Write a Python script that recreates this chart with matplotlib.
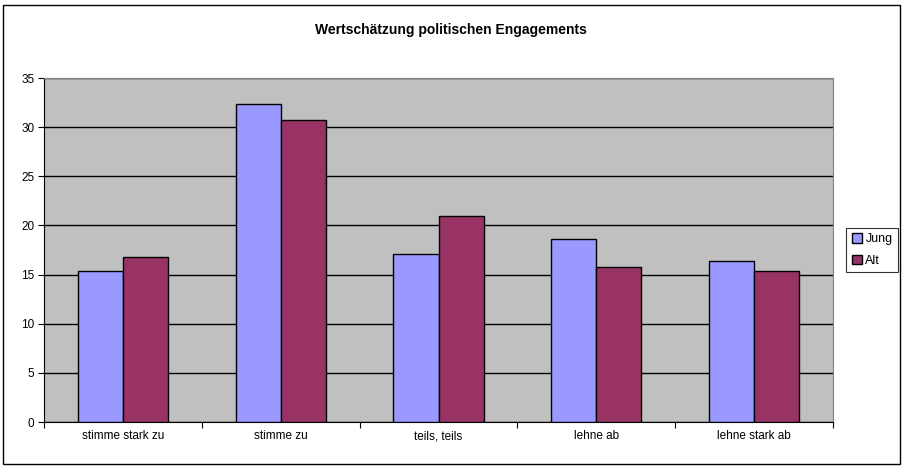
import numpy as np
import matplotlib.pyplot as plt
from matplotlib.patches import Rectangle

categories = ['stimme stark zu', 'stimme zu', 'teils, teils', 'lehne ab', 'lehne stark ab']
jung = [15.4, 32.4, 17.1, 18.6, 16.4]
alt = [16.8, 30.7, 21.0, 15.8, 15.4]
yticks = [0, 5, 10, 15, 20, 25, 30, 35]

plt.rcParams['font.family'] = ['Liberation Sans', 'DejaVu Sans']

fig = plt.figure(figsize=(9.02, 4.69), dpi=100)
ax = fig.add_axes([44 / 902, 1 - 422 / 469, (833 - 44) / 902, (422 - 78) / 469])

# figure frame
fig.patches.append(Rectangle((3 / 902, 5 / 469), 897 / 902, 459 / 469, transform=fig.transFigure,
                             fill=False, edgecolor='black', linewidth=1))

x = np.arange(len(categories))
w = 1 / 3.5
ax.bar(x - w / 2, jung, w, color='#9999FF', edgecolor='black', linewidth=1, label='Jung', zorder=3)
ax.bar(x + w / 2, alt, w, color='#993366', edgecolor='black', linewidth=1, label='Alt', zorder=3)

ax.set_facecolor('#C0C0C0')
ax.set_xlim(-0.5, len(categories) - 0.5)
ax.set_ylim(0, 35)
ax.set_yticks(yticks)
ax.yaxis.grid(True, color='black', linewidth=1, zorder=1)
ax.set_axisbelow(True)

ax.set_xticks(np.arange(-0.5, len(categories), 1))
ax.set_xticklabels([])
ax.set_xticks(x, minor=True)
ax.set_xticklabels(categories, minor=True, fontsize=8.5)
ax.tick_params(axis='x', which='minor', length=0, pad=6)
ax.tick_params(axis='x', which='major', length=4, color='black')
ax.tick_params(axis='y', length=4, labelsize=8.5, pad=3)

for s in ['top', 'right']:
    ax.spines[s].set_color('#808080')
for s in ['left', 'bottom']:
    ax.spines[s].set_color('black')

fig.text(0.5, 1 - 30 / 469, 'Wertschätzung politischen Engagements', ha='center', va='center',
         fontsize=10, fontweight='bold')

leg = fig.legend(loc='center left', bbox_to_anchor=(846 / 902, 1 - 250 / 469), fontsize=9,
                 frameon=True, fancybox=False, edgecolor='black', handlelength=0.8, handleheight=0.8,
                 handletextpad=0.3, borderpad=0.45, labelspacing=0.75, borderaxespad=0)
leg.get_frame().set_linewidth(0.8)

fig.savefig('out.png', dpi=100, facecolor='white')
